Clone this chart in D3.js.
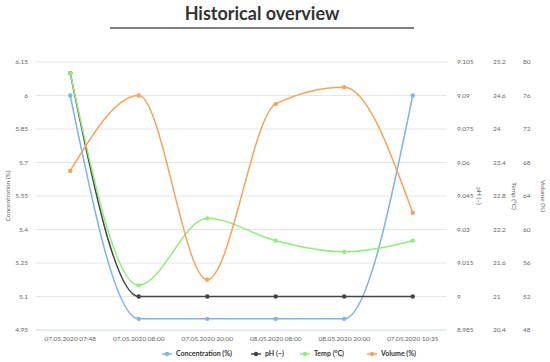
<!DOCTYPE html>
<html>
<head>
<meta charset="utf-8">
<script src="https://cdn.jsdelivr.net/npm/d3@7/dist/d3.min.js"></script>
<style>
  body { margin: 0; background: #fff; }
  svg { display: block; font-family: Lato, "Open Sans", sans-serif; }
</style>
</head>
<body>
<svg id="chart" width="550" height="362"></svg>
<script>
// ---------- data ----------
const categories = ["07.05.2020 07:48", "07.05.2020 08:00", "07.05.2020 20:00",
  "08.05.2020 08:00", "08.05.2020 20:00", "07.05.2020 10:35"];
const concentration = [6, 5.0, 5.0, 5.0, 5.0, 6];
const ph = [9.1, 9, 9, 9, 9, 9];
const temp = [25.0, 21.2, 22.4, 22.0, 21.8, 22.0];
const volume = [67, 76, 54, 75, 77, 62];

const concTicks = [4.95, 5.1, 5.25, 5.4, 5.55, 5.7, 5.85, 6, 6.15];
const phTicks = [8.985, 9, 9.015, 9.03, 9.045, 9.06, 9.075, 9.09, 9.105];
const tempTicks = [20.4, 21, 21.6, 22.2, 22.8, 23.4, 24, 24.6, 25.2];
const volTicks = [48, 52, 56, 60, 64, 68, 72, 76, 80];

// ---------- layout ----------
const svg = d3.select("#chart");
const plotL = 36, plotR = 447, plotT = 62, plotB = 330;

const x = d3.scalePoint().domain(categories).range([plotL, plotR]).padding(0.5);
const yConc = d3.scaleLinear().domain([4.95, 6.15]).range([plotB, plotT]);
const yPh = d3.scaleLinear().domain([8.985, 9.105]).range([plotB, plotT]);
const yTemp = d3.scaleLinear().domain([20.4, 25.2]).range([plotB, plotT]);
const yVol = d3.scaleLinear().domain([48, 80]).range([plotB, plotT]);

// title
svg.append("text").attr("x", 262).attr("y", 20).attr("text-anchor", "middle")
  .style("font-size", "18px").style("font-weight", "700").style("fill", "#333")
  .text("Historical overview");
svg.append("line").attr("x1", 110).attr("x2", 414).attr("y1", 28).attr("y2", 28)
  .attr("stroke", "#555").attr("stroke-width", 1.3);

// grid
svg.selectAll(".grid").data(concTicks).join("line")
  .attr("class", "grid")
  .attr("x1", plotL).attr("x2", plotR)
  .attr("y1", d => yConc(d)).attr("y2", d => yConc(d))
  .attr("stroke", d => d === 4.95 ? "#ccd6eb" : "#e6e6e6").attr("stroke-width", 1);

const tickStyle = s => s.style("font-size", "6.5px").style("fill", "#666");

// left axis labels
svg.selectAll(".lt").data(concTicks).join("text")
  .attr("class", "lt").attr("x", 28).attr("y", d => yConc(d) + 2.2)
  .attr("text-anchor", "end").call(tickStyle)
  .text(d => String(+d.toFixed(2)));

// right axes labels
const rightAxes = [
  { ticks: phTicks, scale: yPh, x: 457, title: "pH (−)", tx: 477 },
  { ticks: tempTicks, scale: yTemp, x: 493, title: "Temp (°C)", tx: 512 },
  { ticks: volTicks, scale: yVol, x: 523, title: "Volume (%)", tx: 541 }
];
rightAxes.forEach((a, i) => {
  svg.selectAll(".rt" + i).data(a.ticks).join("text")
    .attr("class", "rt" + i).attr("x", a.x).attr("y", d => a.scale(d) + 2.2)
    .attr("text-anchor", "start").call(tickStyle)
    .text(d => String(+d.toFixed(3)));
  svg.append("text")
    .attr("transform", `translate(${a.tx},${(plotT + plotB) / 2}) rotate(90)`)
    .attr("text-anchor", "middle").call(tickStyle)
    .text(a.title);
});

svg.append("text")
  .attr("transform", `translate(10,${(plotT + plotB) / 2}) rotate(-90)`)
  .attr("text-anchor", "middle").call(tickStyle)
  .text("Concentration (%)");

// x labels
svg.selectAll(".xt").data(categories).join("text")
  .attr("class", "xt").attr("x", d => x(d)).attr("y", 341)
  .attr("text-anchor", "middle").call(tickStyle).text(d => d);

// series
const series = [
  { name: "Concentration (%)", values: concentration, scale: yConc, color: "#7cb5ec" },
  { name: "pH (−)", values: ph, scale: yPh, color: "#434348" },
  { name: "Temp (°C)", values: temp, scale: yTemp, color: "#90ed7d" },
  { name: "Volume (%)", values: volume, scale: yVol, color: "#f7a35c" }
];

series.forEach(s => {
  const pts = s.values.map((v, i) => [x(categories[i]), s.scale(v)]);
  svg.append("path").datum(pts)
    .attr("d", d3.line().curve(d3.curveMonotoneX))
    .attr("fill", "none").attr("stroke", s.color).attr("stroke-width", 1.5);
  svg.selectAll(null).data(pts).join("circle")
    .attr("cx", d => d[0]).attr("cy", d => d[1]).attr("r", 2.2)
    .attr("fill", s.color);
});

// legend
const legendX = [162, 251, 300, 367];
const lg = svg.selectAll(".lg").data(series).join("g")
  .attr("class", "lg").attr("transform", (d, i) => `translate(${legendX[i]},354)`);
lg.append("line").attr("x1", 0).attr("x2", 10).attr("y1", 0).attr("y2", 0)
  .attr("stroke", d => d.color).attr("stroke-width", 1.5);
lg.append("circle").attr("cx", 5).attr("cy", 0).attr("r", 2.2).attr("fill", d => d.color);
lg.append("text").attr("x", 14).attr("y", 2.4)
  .style("font-size", "7px").style("font-weight", "700").style("fill", "#333")
  .text(d => d.name);
</script>
</body>
</html>
